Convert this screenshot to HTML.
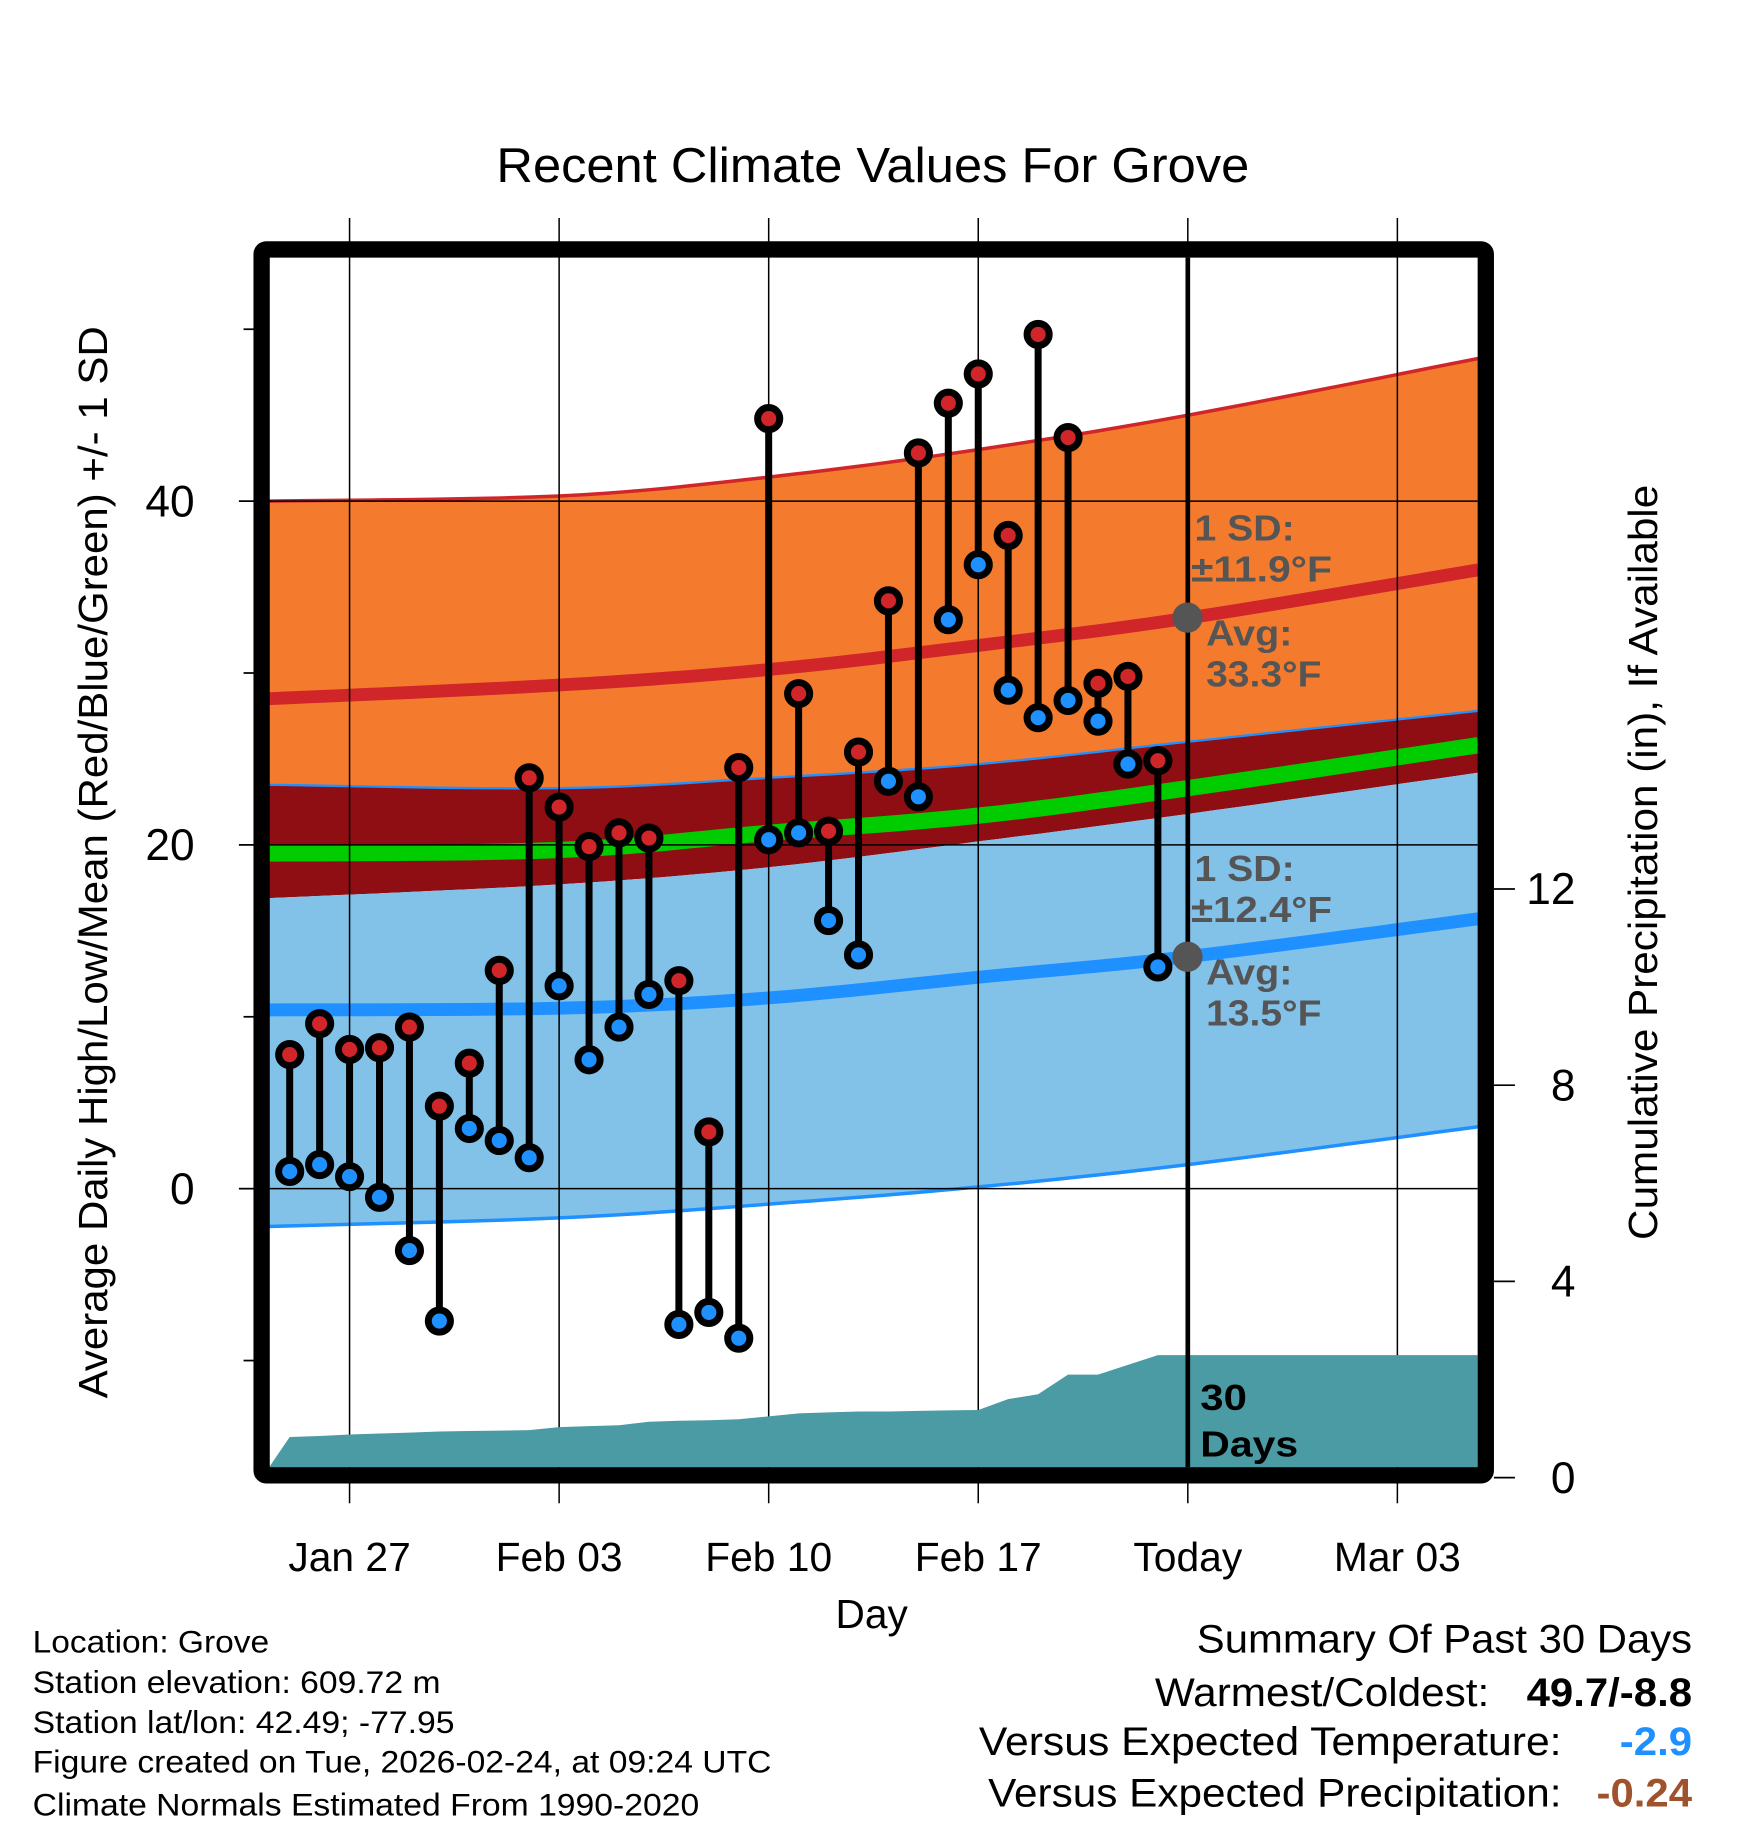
<!DOCTYPE html>
<html><head><meta charset="utf-8"><style>
html,body{margin:0;padding:0;background:#fff;}
svg{display:block;font-family:"Liberation Sans",Arial,sans-serif;}
</style></head><body>
<svg id="chart" width="1748" height="1828" viewBox="0 0 1500 1568.6" xmlns="http://www.w3.org/2000/svg">
<rect width="1500" height="1568.6" fill="#fff"/>
<text x="426" y="156" font-size="42" textLength="646" lengthAdjust="spacingAndGlyphs">Recent Climate Values For Grove</text>
<g id="bands"></g>
<g id="grid"></g>
<g id="precip"></g>
<g id="marks"></g>
<g id="frame"></g>
<g id="axes"></g>
<g font-weight="bold" fill="#555" font-size="31">
<text x="1025" y="464" textLength="86" lengthAdjust="spacingAndGlyphs">1 SD:</text>
<text x="1022" y="499" textLength="121" lengthAdjust="spacingAndGlyphs">±11.9°F</text>
<text x="1035" y="554" textLength="74" lengthAdjust="spacingAndGlyphs">Avg:</text>
<text x="1035" y="589" textLength="99" lengthAdjust="spacingAndGlyphs">33.3°F</text>
<text x="1025" y="756" textLength="86" lengthAdjust="spacingAndGlyphs">1 SD:</text>
<text x="1022" y="791" textLength="121" lengthAdjust="spacingAndGlyphs">±12.4°F</text>
<text x="1035" y="845" textLength="74" lengthAdjust="spacingAndGlyphs">Avg:</text>
<text x="1035" y="880" textLength="99" lengthAdjust="spacingAndGlyphs">13.5°F</text>
<circle cx="1019" cy="530" r="13" fill="#555"/>
<circle cx="1019" cy="821" r="13" fill="#555"/>
<text x="1030" y="1210" fill="#000" textLength="40" lengthAdjust="spacingAndGlyphs">30</text>
<text x="1030" y="1250" fill="#000" textLength="84" lengthAdjust="spacingAndGlyphs">Days</text>
</g>
<text transform="translate(92,740) rotate(-90)" font-size="35" text-anchor="middle" textLength="920" lengthAdjust="spacingAndGlyphs">Average Daily High/Low/Mean (Red/Blue/Green) +/- 1 SD</text>
<text transform="translate(1422,740) rotate(-90)" font-size="35" text-anchor="middle" textLength="648" lengthAdjust="spacingAndGlyphs">Cumulative Precipitation (in), If Available</text>
<text x="748" y="1397" font-size="35" text-anchor="middle" textLength="62" lengthAdjust="spacingAndGlyphs">Day</text>
<g font-size="27">
<text x="28" y="1418" textLength="203" lengthAdjust="spacingAndGlyphs">Location: Grove</text>
<text x="28" y="1453" textLength="350" lengthAdjust="spacingAndGlyphs">Station elevation: 609.72 m</text>
<text x="28" y="1487" textLength="362" lengthAdjust="spacingAndGlyphs">Station lat/lon: 42.49; -77.95</text>
<text x="28" y="1521" textLength="634" lengthAdjust="spacingAndGlyphs">Figure created on Tue, 2026-02-24, at 09:24 UTC</text>
<text x="28" y="1558" textLength="572" lengthAdjust="spacingAndGlyphs">Climate Normals Estimated From 1990-2020</text>
</g>
<g font-size="34">
<text x="1027" y="1418" textLength="425" lengthAdjust="spacingAndGlyphs">Summary Of Past 30 Days</text>
<text x="991" y="1464" textLength="287" lengthAdjust="spacingAndGlyphs">Warmest/Coldest:</text>
<text x="1310" y="1464" font-weight="bold" textLength="142" lengthAdjust="spacingAndGlyphs">49.7/-8.8</text>
<text x="840" y="1506" textLength="500" lengthAdjust="spacingAndGlyphs">Versus Expected Temperature:</text>
<text x="1390" y="1506" font-weight="bold" fill="#1E90FF" textLength="62" lengthAdjust="spacingAndGlyphs">-2.9</text>
<text x="848" y="1550" textLength="492" lengthAdjust="spacingAndGlyphs">Versus Expected Precipitation:</text>
<text x="1370" y="1550" font-weight="bold" fill="#A0522D" textLength="82" lengthAdjust="spacingAndGlyphs">-0.24</text>
</g>
</svg>
<script>
// days since Jan 24
const obsDays=[1,2,3,4,5,6,7,8,9,10,11,12,13,14,15,16,17,18,19,20,21,22,23,24,25,26,27,28,29,30];
const highs=[7.8,9.6,8.1,8.2,9.4,4.8,7.3,12.7,23.9,22.2,19.9,20.7,20.4,12.1,3.3,24.5,44.8,28.8,20.8,25.4,34.2,42.8,45.7,47.4,38.0,49.7,43.7,29.4,29.8,24.9];
const lows=[1.0,1.4,0.7,-0.5,-3.6,-7.7,3.5,2.8,1.8,11.8,7.5,9.4,11.3,-7.9,-7.2,-8.7,20.3,20.7,15.6,13.6,23.7,22.8,33.1,36.3,29.0,27.4,28.4,27.2,24.7,12.9];
const precip=[0.83,0.85,0.88,0.90,0.92,0.94,0.95,0.96,0.97,1.03,1.05,1.07,1.14,1.16,1.17,1.19,1.25,1.31,1.33,1.35,1.35,1.36,1.37,1.38,1.60,1.70,2.10,2.10,2.30,2.50];
const normDays=[0.3,10,17,24,31,40.7];
const normHigh=[28.5,29.3,30.2,31.6,33.2,36.0];
const highPlus=[40.0,40.3,41.4,43.0,45.0,48.3];
const highMinus=[23.5,23.3,23.9,24.7,26.0,27.8];
const normMean=[19.5,19.7,20.7,21.7,23.3,25.8];
const normLow=[10.4,10.5,11.1,12.3,13.5,15.7];
const lowPlus=[16.9,17.7,18.7,20.2,21.8,24.2];
const lowMinus=[-2.2,-1.7,-0.9,0.1,1.4,3.6];
const xTickDays=[3,10,17,24,31,38];
const xTickLabels=["Jan 27","Feb 03","Feb 10","Feb 17","Today","Mar 03"];
const yTicks=[0,20,40];
const yMinor=[-10,10,30,50];
const y2Ticks=[0,4,8,12];
const todayDay=31;

const NS="http://www.w3.org/2000/svg";
const L=231,R=1268,T=221,B=1259;
const xS=d=>222.9+d*25.69;
const yS=t=>1020-t*14.75;
const y2S=p=>1268-p*42.1;
function el(tag,attrs,parent){const e=document.createElementNS(NS,tag);for(const k in attrs)e.setAttribute(k,attrs[k]);document.getElementById(parent).appendChild(e);return e;}
function curvePts(ds,vs){
  const pts=[];
  for(let i=0;i<ds.length-1;i++){
    const p0=i>0?i-1:i,p3=i+2<ds.length?i+2:i+1;
    for(let s=0;s<10;s++){const t=s/10;
      const cr=(a,b,c,d)=>0.5*((2*b)+(-a+c)*t+(2*a-5*b+4*c-d)*t*t+(-a+3*b-3*c+d)*t*t*t);
      pts.push([xS(cr(ds[p0],ds[i],ds[i+1],ds[p3])),yS(cr(vs[p0],vs[i],vs[i+1],vs[p3]))]);}
  }
  pts.push([xS(ds[ds.length-1]),yS(vs[vs.length-1])]);
  return pts;
}
const ptsStr=p=>p.map(q=>q[0].toFixed(1)+","+q[1].toFixed(1)).join(" ");
function band(top,bot,fill,name){
  const a=curvePts(normDays,top),b=curvePts(normDays,bot).reverse();
  const e=el('polygon',{points:ptsStr(a.concat(b)),fill:fill},'bands');
  
  
}
function line(vals,color,w,name){
  const e=el('polyline',{points:ptsStr(curvePts(normDays,vals)),fill:'none',stroke:color,'stroke-width':w},'bands');
  
  
}
band(highPlus,highMinus,'#F47B2E','high-sd-band');
band(highMinus,lowPlus,'#8E0E14','overlap-band');
band(lowPlus,lowMinus,'#82C1E8','low-sd-band');
line(highPlus,'#D0262A',3,'high-plus-sd-line');
line(highMinus,'#1E90FF',2,'high-minus-sd-line');
line(lowMinus,'#1E90FF',3,'low-minus-sd-line');
line(normMean,'#00CC00',14,'normal-mean-line');
line(normHigh,'#D0262A',11,'normal-high-line');
line(normLow,'#1E90FF',11,'normal-low-line');

xTickDays.forEach(d=>{const e=el('line',{x1:xS(d),x2:xS(d),y1:187,y2:1290,stroke:'#000','stroke-width':1.3},'grid');

});
yTicks.forEach(t=>{const e=el('line',{x1:L,x2:R,y1:yS(t),y2:yS(t),stroke:'#000','stroke-width':1.3},'grid');

});

{const pts=[[L,B],[xS(obsDays[0]),y2S(precip[0])]];
obsDays.forEach((d,i)=>pts.push([xS(d),y2S(precip[i])]));
pts.push([R,y2S(precip[precip.length-1])],[R,B]);
const e=el('polygon',{points:ptsStr(pts),fill:'#4A9BA3'},'precip');

}

{const e=el('line',{x1:xS(todayDay),x2:xS(todayDay),y1:T,y2:B,stroke:'#000','stroke-width':4},'marks');

}

obsDays.forEach((d,i)=>{const x=xS(d);
 const s=el('line',{x1:x,x2:x,y1:yS(highs[i]),y2:yS(lows[i]),stroke:'#000','stroke-width':6},'marks');
 
 });
obsDays.forEach((d,i)=>{const x=xS(d);
 const h=el('circle',{cx:x,cy:yS(highs[i]),r:9.5,fill:'#D0262A',stroke:'#000','stroke-width':6},'marks');
 
 
 const l=el('circle',{cx:x,cy:yS(lows[i]),r:9.5,fill:'#1E90FF',stroke:'#000','stroke-width':6},'marks');
 
 });

{const e=el('rect',{x:224.5,y:214,width:1050.5,height:1052,fill:'none',stroke:'#000','stroke-width':14,rx:4},'frame');

}

xTickDays.forEach((d,i)=>{const t=el('text',{x:xS(d),y:1348,'font-size':35,'text-anchor':'middle'},'axes');t.textContent=xTickLabels[i];

});
yTicks.forEach(v=>{const k=el('line',{x1:205,x2:218,y1:yS(v),y2:yS(v),stroke:'#000','stroke-width':1.5},'axes');


const t=el('text',{x:167,y:yS(v)+13,'font-size':38,'text-anchor':'end'},'axes');t.textContent=v;

});
yMinor.forEach(v=>{const k=el('line',{x1:209,x2:218,y1:yS(v),y2:yS(v),stroke:'#000','stroke-width':1.5},'axes');

});
y2Ticks.forEach(v=>{const k=el('line',{x1:1282,x2:1300,y1:y2S(v),y2:y2S(v),stroke:'#000','stroke-width':1.5},'axes');


const t=el('text',{x:1352,y:y2S(v)+13,'font-size':38,'text-anchor':'end'},'axes');t.textContent=v;

});
</script>
</body></html>
